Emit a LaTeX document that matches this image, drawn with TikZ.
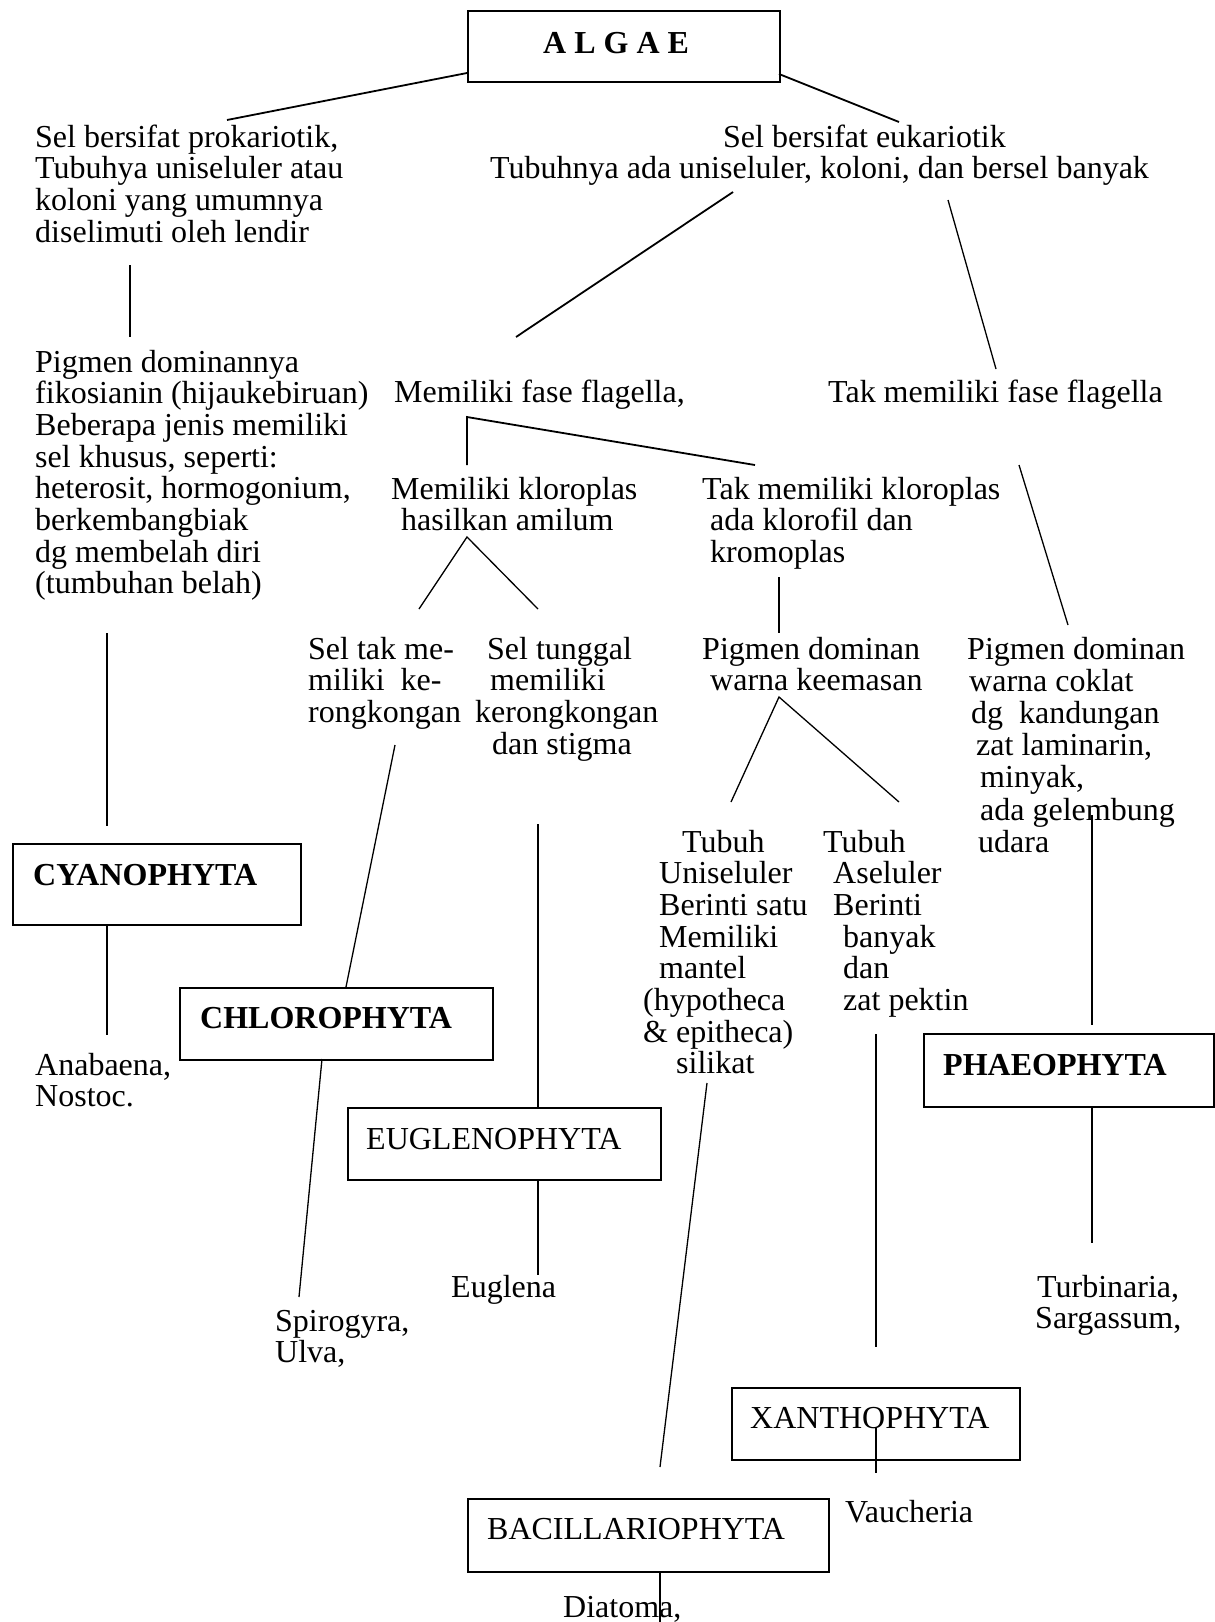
\documentclass[tikz,border=0pt]{standalone}
\usepackage{fontspec}
\setmainfont{Liberation Serif}
\tikzset{
 txt/.style={anchor=base west, inner sep=0pt, align=left, font=\fontsize{32}{31.7}\selectfont},
 boxn/.style={draw, line width=2.2pt, anchor=north west, inner sep=0pt},
 lnA/.style={line width=1.3pt},
 lnB/.style={line width=1.8pt}
}
\begin{document}
\begin{tikzpicture}[x=1pt,y=-1pt]
\useasboundingbox[fill=white] (0,0) rectangle (1215,1622);
% boxes
\node[boxn, minimum width=312pt, minimum height=71pt] (algae) at (467,10) {};
\node[txt] (algaet) at (543,53) {\bfseries A L G A E};
\node[boxn, minimum width=288pt, minimum height=81pt] (cyano) at (12,843) {};
\node[txt] (cyanot) at (33,885) {\bfseries CYANOPHYTA};
\node[boxn, minimum width=313pt, minimum height=72pt] (chloro) at (179,987) {};
\node[txt] (chlorot) at (200,1028) {\bfseries CHLOROPHYTA};
\node[boxn, minimum width=313pt, minimum height=72pt] (eugl) at (347,1107) {};
\node[txt] (euglt) at (366,1149) {EUGLENOPHYTA};
\node[boxn, minimum width=290pt, minimum height=73pt] (phaeo) at (923,1033) {};
\node[txt] (phaeot) at (943,1075) {\bfseries PHAEOPHYTA};
\node[boxn, minimum width=288pt, minimum height=72pt] (xantho) at (731,1387) {};
\node[txt] (xanthot) at (750,1428) {XANTHOPHYTA};
\node[boxn, minimum width=361pt, minimum height=73pt] (bacil) at (467,1498) {};
\node[txt] (bacilt) at (487,1539) {BACILLARIOPHYTA};
% text blocks (anchor = baseline of last line)
\node[txt] (prok) at (35,242.1) {Sel bersifat prokariotik,\\Tubuhya uniseluler atau\\koloni yang umumnya\\diselimuti oleh lendir};
\node[txt] (euk) at (490,178.7) {\hspace*{233pt}Sel bersifat eukariotik\\Tubuhnya ada uniseluler, koloni, dan bersel banyak};
\node[txt] (pig) at (35,593.9) {Pigmen dominannya\\fikosianin (hijaukebiruan)\\Beberapa jenis memiliki\\sel khusus, seperti:\\heterosit, hormogonium,\\berkembangbiak\\dg membelah diri\\(tumbuhan belah)};
\node[txt] (flag) at (394,402) {Memiliki fase flagella,};
\node[txt] (noflag) at (828,402) {Tak memiliki fase flagella};
\node[txt] (klor) at (391,530.7) {Memiliki kloroplas\\\hspace*{10pt}hasilkan amilum};
\node[txt] (noklor) at (702,562.4) {Tak memiliki kloroplas\\\hspace*{8pt}ada klorofil dan\\\hspace*{8pt}kromoplas};
\node[txt] (seltak) at (308,722.4) {Sel tak me-\\miliki\ \ ke-\\rongkongan};
\node[txt] (seltung) at (475,754.1) {\hspace*{12pt}Sel tunggal\\\hspace*{15pt}memiliki\\kerongkongan\\\hspace*{17pt}dan stigma};
\node[txt] (emas) at (702,690.7) {Pigmen dominan\\\hspace*{8pt}warna keemasan};
\node[txt, font=\fontsize{32}{32.2}\selectfont] (coklat) at (967,852.2) {Pigmen dominan\\\hspace*{2pt}warna coklat\\\hspace*{4pt}dg\ \ kandungan\\\hspace*{9pt}zat laminarin,\\\hspace*{13pt}minyak,\\\hspace*{13pt}ada gelembung\\\hspace*{11pt}udara};
\node[txt] (tubuh1) at (643,1073.9) {\hspace*{39pt}Tubuh\\\hspace*{16pt}Uniseluler\\\hspace*{16pt}Berinti satu\\\hspace*{16pt}Memiliki\\\hspace*{16pt}mantel\\(hypotheca\\\& epitheca)\\\hspace*{33pt}silikat};
\node[txt] (tubuh2) at (823,1010.5) {Tubuh\\\hspace*{10pt}Aseluler\\\hspace*{10pt}Berinti\\\hspace*{20pt}banyak\\\hspace*{20pt}dan\\\hspace*{20pt}zat pektin};
\node[txt] (anab) at (35,1106.7) {Anabaena,\\Nostoc.};
\node[txt] (spiro) at (275,1362.7) {Spirogyra,\\Ulva,};
\node[txt] (euglena) at (451,1297) {Euglena};
\node[txt] (turb) at (1035,1328.7) {\hspace*{2pt}Turbinaria,\\Sargassum,};
\node[txt] (vauch) at (845,1522) {Vaucheria};
\node[txt] (diat) at (563,1617) {Diatoma,};
% connector coordinates
\coordinate (a1) at (467,73); \coordinate (a2) at (227,120);
\coordinate (b1) at (779,74); \coordinate (b2) at (899,122);
\coordinate (c1) at (130,265); \coordinate (c2) at (130,337);
\coordinate (d1) at (733,192); \coordinate (d2) at (516,337);
\coordinate (e1) at (948,200); \coordinate (e2) at (996,369);
\coordinate (f1) at (467,465); \coordinate (f2) at (467,417); \coordinate (f3) at (755,465);
\coordinate (g1) at (1019,465); \coordinate (g2) at (1068,625);
\coordinate (h1) at (779,577); \coordinate (h2) at (779,633);
\coordinate (i1) at (419,609); \coordinate (i2) at (467,537); \coordinate (i3) at (538,609);
\coordinate (j1) at (107,633); \coordinate (j2) at (107,826);
\coordinate (k1) at (731,802); \coordinate (k2) at (779,697); \coordinate (k3) at (899,802);
\coordinate (l1) at (395,745); \coordinate (l2) at (346,987);
\coordinate (m1) at (538,824); \coordinate (m2) at (538,1107);
\coordinate (n1) at (1092,815); \coordinate (n2) at (1092,1025);
\coordinate (o1) at (107,924); \coordinate (o2) at (107,1035);
\coordinate (p1) at (322,1059); \coordinate (p2) at (299,1297);
\coordinate (q1) at (538,1179); \coordinate (q2) at (538,1275);
\coordinate (r1) at (707,1083); \coordinate (r2) at (660,1467);
\coordinate (s1) at (876,1034); \coordinate (s2) at (876,1347);
\coordinate (t1) at (1092,1106); \coordinate (t2) at (1092,1243);
\coordinate (u1) at (876,1427); \coordinate (u2) at (876,1473);
\coordinate (v1) at (660,1571); \coordinate (v2) at (660,1622);
% connectors
\draw[lnB] (a1) -- (a2);
\draw[lnB] (b1) -- (b2);
\draw[lnA] (c1) -- (c2);
\draw[lnB] (d1) -- (d2);
\draw[lnA] (e1) -- (e2);
\draw[lnB] (f1) -- (f2) -- (f3);
\draw[lnA] (g1) -- (g2);
\draw[lnA] (h1) -- (h2);
\draw[lnA] (i1) -- (i2) -- (i3);
\draw[lnA] (j1) -- (j2);
\draw[lnA] (k1) -- (k2) -- (k3);
\draw[lnA] (l1) -- (l2);
\draw[lnA] (m1) -- (m2);
\draw[lnA] (n1) -- (n2);
\draw[lnA] (o1) -- (o2);
\draw[lnA] (p1) -- (p2);
\draw[lnA] (q1) -- (q2);
\draw[lnA] (r1) -- (r2);
\draw[lnA] (s1) -- (s2);
\draw[lnA] (t1) -- (t2);
\draw[lnA] (u1) -- (u2);
\draw[lnA] (v1) -- (v2);
\end{tikzpicture}
\end{document}
